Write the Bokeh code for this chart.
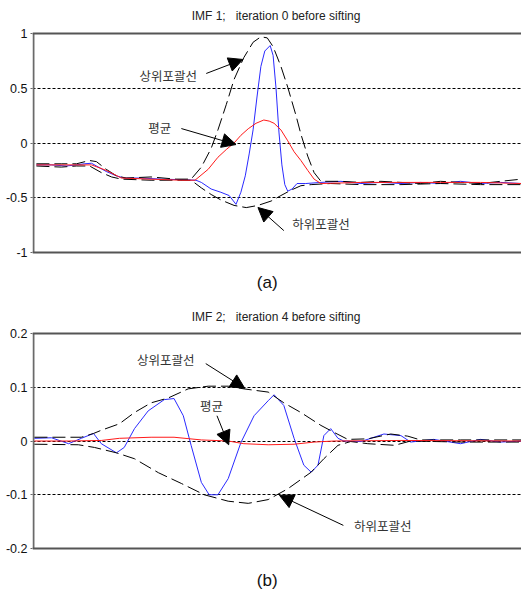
from bokeh.plotting import figure
from bokeh.models import Range1d, FixedTicker, Label, Arrow, NormalHead
from bokeh.layouts import column
from bokeh.embed import file_html
from bokeh.resources import INLINE

# ---------------- Panel (a): IMF 1, iteration 0 ----------------
a_sig_x = [6, 37, 67, 88, 104, 119, 129, 149, 170, 186, 221, 262, 303, 333, 344, 364, 384, 401, 415,
           425, 434, 442, 450, 458, 466, 474, 485, 491, 497, 503, 509, 515, 521, 530, 540, 558, 589,
           630, 671, 712, 753, 793, 834, 875, 916, 957, 1000]
a_sig_y = [-0.20, -0.20, -0.21, -0.20, -0.19, -0.185, -0.21, -0.26, -0.30, -0.32, -0.32, -0.33, -0.335,
           -0.34, -0.36, -0.42, -0.45, -0.48, -0.56,
           -0.45, -0.30, -0.10, 0.12, 0.42, 0.70, 0.84, 0.89, 0.80, 0.50, 0.10, -0.20, -0.38, -0.44,
           -0.42, -0.37, -0.37, -0.36, -0.35, -0.37, -0.36, -0.37, -0.36, -0.37, -0.35, -0.37, -0.36, -0.37]

a_up_x = [6, 57, 88, 115, 129, 149, 170, 190, 241, 292, 323, 344, 364, 378, 395, 411, 431, 450, 466,
          479, 491, 507, 521, 538, 548, 562, 575, 589, 630, 671, 712, 753, 793, 834, 875, 916, 957, 1000]
a_up_y = [-0.19, -0.19, -0.19, -0.16, -0.17, -0.24, -0.30, -0.32, -0.31, -0.33, -0.33, -0.22, -0.05,
          0.12, 0.35, 0.58, 0.78, 0.92, 0.97, 0.96, 0.88, 0.70, 0.51, 0.25, 0.08, -0.12, -0.27, -0.35,
          -0.35, -0.36, -0.35, -0.36, -0.37, -0.35, -0.36, -0.37, -0.35, -0.33]

a_lo_x = [6, 57, 88, 115, 139, 160, 180, 241, 292, 323, 344, 364, 384, 411, 436, 460, 487, 507, 528,
          548, 569, 609, 671, 753, 834, 916, 1000]
a_lo_y = [-0.21, -0.22, -0.21, -0.21, -0.27, -0.31, -0.33, -0.34, -0.34, -0.34, -0.41, -0.47, -0.52,
          -0.57, -0.59, -0.57, -0.53, -0.48, -0.43, -0.39, -0.38, -0.37, -0.38, -0.38, -0.37, -0.38, -0.38]

a_mean_x = [6, 88, 119, 149, 180, 241, 303, 331, 358, 378, 395, 411, 425, 440, 456, 472, 483, 493,
            507, 521, 534, 548, 562, 575, 589, 671, 753, 834, 916, 1000]
a_mean_y = [-0.20, -0.20, -0.20, -0.25, -0.32, -0.33, -0.34, -0.34, -0.24, -0.13, -0.06, 0.0, 0.07,
            0.13, 0.18, 0.21, 0.20, 0.18, 0.12, 0.02, -0.08, -0.16, -0.25, -0.33, -0.37, -0.36, -0.36,
            -0.36, -0.36, -0.37]

# ---------------- Panel (b): IMF 2, iteration 4 ----------------
b_sig_x = [2, 37, 72, 98, 123, 139, 170, 186, 207, 235, 268, 288, 307, 323, 344, 360, 378, 399, 425,
           452, 481, 493, 513, 534, 554, 569, 583, 595, 609, 624, 636, 671, 718, 753, 773, 820, 875,
           916, 957, 1000]
b_sig_y = [0.005, 0.006, -0.005, 0.005, 0.014, -0.005, -0.022, -0.012, 0.023, 0.056, 0.077, 0.079,
           0.047, -0.008, -0.077, -0.100, -0.100, -0.070, -0.003, 0.047, 0.075, 0.086, 0.066, 0.005,
           -0.045, -0.058, -0.045, 0.010, 0.023, 0.005, 0.0, -0.001, 0.013, 0.010, -0.002, 0.003,
           -0.005, 0.003, -0.002, 0.0]

b_up_x = [2, 98, 123, 139, 176, 207, 241, 276, 317, 358, 399, 431, 481, 513, 548, 589, 616, 644, 685,
          732, 767, 793, 875, 1000]
b_up_y = [0.007, 0.007, 0.014, 0.020, 0.032, 0.053, 0.071, 0.080, 0.097, 0.102, 0.102, 0.097, 0.091,
          0.071, 0.053, 0.029, 0.016, 0.003, 0.004, 0.013, 0.009, 0.002, 0.002, 0.002]

b_lo_x = [2, 92, 125, 170, 207, 256, 303, 350, 399, 440, 481, 521, 569, 595, 624, 650, 685, 740, 773,
          875, 1000]
b_lo_y = [-0.006, -0.007, -0.012, -0.022, -0.033, -0.059, -0.079, -0.100, -0.112, -0.116, -0.109,
          -0.089, -0.058, -0.033, -0.008, -0.001, -0.005, -0.008, 0.0, -0.002, -0.002]

b_mean_x = [2, 72, 139, 176, 241, 288, 344, 399, 431, 481, 534, 575, 616, 753, 1000]
b_mean_y = [0.0, 0.0, 0.001, 0.005, 0.007, 0.007, 0.002, 0.0, -0.005, -0.007, -0.006, -0.002, 0.0,
            0.001, 0.0]

a_ticks = [-1, -0.5, 0, 0.5, 1]
a_tick_labels = ["-1", "-0.5", "0", "0.5", "1"]
a_grid = [-0.5, 0, 0.5]
b_ticks = [-0.2, -0.1, 0, 0.1, 0.2]
b_tick_labels = ["-0.2", "-0.1", "0", "0.1", "0.2"]
b_grid = [-0.1, 0, 0.1]

a_title = "IMF 1;\u00a0\u00a0 iteration 0 before sifting"
b_title = "IMF 2;\u00a0\u00a0 iteration 4 before sifting"

LBL_UP = "상위포괄선"
LBL_MEAN = "평균"
LBL_LO = "하위포괄선"

# annotation placements (data coords): label x, y, arrow start x,y, arrow tip x,y
a_notes = [(LBL_UP, 217, 0.616, 354, 0.635, 429, 0.763),
           (LBL_MEAN, 235, 0.142, 303, 0.132, 415, -0.014),
           (LBL_LO, 530, -0.735, 513, -0.80, 460, -0.589)]
b_notes = [(LBL_UP, 212, 0.152, 353, 0.144, 433, 0.098),
           (LBL_MEAN, 341, 0.066, 376, 0.047, 400, -0.007),
           (LBL_LO, 657, -0.157, 635, -0.157, 504, -0.101)]

# view ranges (value box is yr; extra room above/below holds title and caption)
a_view = (-1.3653, 1.3014)
b_view = (-0.28186, 0.27628)
a_title_pos = (497, 1.1644)
a_cap_pos = (479, -1.274)
b_title_pos = (497, 0.2298)
b_cap_pos = (479, -0.2595)

FONT = "Liberation Sans"
AXC = "#6a6a6a"


def make_panel(title, caption, tpos, cpos, sx, sy, ux, uy, lx, ly, mx, my, yr, view, ticks, tlabels,
               grid, notes, height):
    p = figure(width=521, height=height, output_backend="svg", toolbar_location=None,
               x_range=Range1d(-2, 1000), y_range=Range1d(view[0], view[1]),
               min_border_left=32, min_border_right=0, min_border_top=0, min_border_bottom=0,
               x_axis_location=None, y_axis_location="left")
    p.outline_line_color = None
    p.background_fill_color = "white"
    p.border_fill_color = "white"
    p.xgrid.visible = False
    p.ygrid.ticker = FixedTicker(ticks=grid)
    p.ygrid.grid_line_color = "black"
    p.ygrid.grid_line_dash = "3 2"
    p.ygrid.grid_line_width = 1

    ya = p.yaxis[0]
    ya.ticker = FixedTicker(ticks=ticks)
    ya.major_label_overrides = {t: s for t, s in zip(ticks, tlabels)}
    ya.major_tick_out = 2
    ya.major_tick_in = 0
    ya.major_tick_line_color = AXC
    ya.minor_tick_line_color = None
    ya.axis_line_color = None
    ya.major_label_text_font = FONT
    ya.major_label_text_font_size = "12.5px"
    ya.major_label_text_color = "#111111"
    ya.major_label_standoff = 3

    # plot box: left, top and bottom edges of the value range
    p.segment(x0=[0, -2, -2], y0=[yr[0], yr[1], yr[0]], x1=[0, 1000, 1000], y1=[yr[1], yr[1], yr[0]],
              line_color=[AXC, "#555555", "#555555"], line_width=2)

    p.add_layout(Label(x=tpos[0], y=tpos[1], text=title, text_font=FONT, text_font_size="12px",
                       text_color="#222222", text_align="center", text_baseline="middle"))
    p.add_layout(Label(x=cpos[0], y=cpos[1], text=caption, text_font=FONT, text_font_size="17px",
                       text_color="#111111", text_align="center", text_baseline="middle"))

    p.line(sx, sy, line_color="#2a2aff", line_width=1)
    p.line(ux, uy, line_color="black", line_width=1, line_dash="13 5")
    p.line(lx, ly, line_color="black", line_width=1, line_dash="13 5")
    p.line(mx, my, line_color="#ff1a1a", line_width=1)

    for txt, tx, ty, x0, y0, x1, y1 in notes:
        p.add_layout(Label(x=tx, y=ty, text=txt, text_font="Noto Sans CJK KR", text_font_size="12.5px",
                           text_color="#333333", text_baseline="middle", text_align="left"))
        p.add_layout(Arrow(x_start=x0, y_start=y0, x_end=x1, y_end=y1, line_color="black", line_width=1,
                           end=NormalHead(size=14, fill_color="black", line_color="black")))
    return p


pa = make_panel(a_title, "(a)", a_title_pos, a_cap_pos, a_sig_x, a_sig_y, a_up_x, a_up_y,
                a_lo_x, a_lo_y, a_mean_x, a_mean_y, (-1, 1), a_view, a_ticks, a_tick_labels, a_grid,
                a_notes, 292)
pb = make_panel(b_title, "(b)", b_title_pos, b_cap_pos, b_sig_x, b_sig_y, b_up_x, b_up_y,
                b_lo_x, b_lo_y, b_mean_x, b_mean_y, (-0.2, 0.2), b_view, b_ticks, b_tick_labels, b_grid,
                b_notes, 300)

layout = column(pa, pb, spacing=0)
open("out.html", "w").write(file_html(layout, INLINE))
